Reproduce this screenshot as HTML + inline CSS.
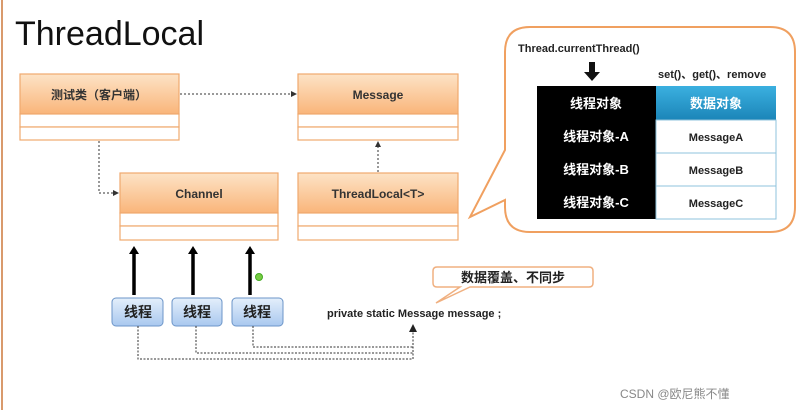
<!DOCTYPE html>
<html><head><meta charset="utf-8"><style>
body{margin:0;width:810px;height:410px;background:#fff;overflow:hidden;font-family:"Liberation Sans","Noto Sans CJK SC",sans-serif;}
</style></head><body>
<svg width="810" height="410" xmlns="http://www.w3.org/2000/svg" font-family="Liberation Sans, Noto Sans CJK SC, sans-serif">
<defs>
<linearGradient id="og" x1="0" y1="0" x2="0" y2="1"><stop offset="0" stop-color="#fde3c6"/><stop offset="1" stop-color="#f9b57a"/></linearGradient>
<linearGradient id="bg" x1="0" y1="0" x2="0" y2="1"><stop offset="0" stop-color="#e4effb"/><stop offset="1" stop-color="#a9c8ef"/></linearGradient>
<linearGradient id="tg" x1="0" y1="0" x2="0" y2="1"><stop offset="0" stop-color="#3bb0e0"/><stop offset="1" stop-color="#1b85b8"/></linearGradient>
<marker id="ah" markerWidth="6" markerHeight="6" refX="5" refY="3" orient="auto"><path d="M0,0L6,3L0,6z" fill="#333"/></marker>
</defs>
<line x1="2" y1="0" x2="2" y2="410" stroke="#d99a6c" stroke-width="2"/>
<text x="15" y="45" font-size="34" fill="#111">ThreadLocal</text>
<g stroke="#f0a96e" stroke-width="1.2">
<rect x="20" y="74" width="159" height="40" fill="url(#og)"/><rect x="20" y="114" width="159" height="13" fill="#fff"/><rect x="20" y="127" width="159" height="13" fill="#fff"/>
<rect x="298" y="74" width="160" height="40" fill="url(#og)"/><rect x="298" y="114" width="160" height="13" fill="#fff"/><rect x="298" y="127" width="160" height="13" fill="#fff"/>
<rect x="120" y="173" width="158" height="40" fill="url(#og)"/><rect x="120" y="213" width="158" height="13" fill="#fff"/><rect x="120" y="226" width="158" height="14" fill="#fff"/>
<rect x="298" y="173" width="160" height="40" fill="url(#og)"/><rect x="298" y="213" width="160" height="13" fill="#fff"/><rect x="298" y="226" width="160" height="14" fill="#fff"/>
</g>
<g font-size="12" font-weight="bold" text-anchor="middle" fill="#333">
<text x="99" y="99">测试类（客户端）</text><text x="378" y="99">Message</text>
<text x="199" y="198">Channel</text><text x="378" y="198">ThreadLocal&lt;T&gt;</text>
</g>
<g stroke="#333" stroke-dasharray="2,2" fill="none" marker-end="url(#ah)">
<line x1="180" y1="94" x2="296" y2="94"/>
<polyline points="99,141 99,193 118,193"/>
<line x1="378" y1="172" x2="378" y2="142"/>
</g>
<path d="M530,27 H770 Q795,27 795,52 V207 Q795,232 770,232 H530 Q505,232 505,207 V200 L470,217 L505,150 V52 Q505,27 530,27z" fill="#fff" stroke="#f0a060" stroke-width="2"/>
<text x="518" y="52" font-size="11" font-weight="bold" fill="#222">Thread.currentThread()</text>
<path d="M589,62h6v10h5l-8,9l-8,-9h5z" fill="#111"/>
<text x="658" y="78" font-size="11" font-weight="bold" fill="#222">set()、get()、remove</text>
<rect x="537" y="86" width="119" height="133" fill="#000"/>
<rect x="656" y="86" width="120" height="34" fill="url(#tg)"/>
<g fill="#fff" stroke="#8fc3dc"><rect x="656" y="120" width="120" height="33"/><rect x="656" y="153" width="120" height="33"/><rect x="656" y="186" width="120" height="33"/></g>
<g font-size="13" text-anchor="middle" fill="#fff" font-weight="bold">
<text x="596" y="108">线程对象</text><text x="596" y="141">线程对象-A</text><text x="596" y="174">线程对象-B</text><text x="596" y="207">线程对象-C</text>
<text x="716" y="108">数据对象</text></g>
<g font-size="11" text-anchor="middle" fill="#222" font-weight="bold">
<text x="716" y="141">MessageA</text><text x="716" y="174">MessageB</text><text x="716" y="207">MessageC</text></g>
<g stroke="#000" stroke-width="3.5"><line x1="134" y1="295" x2="134" y2="252"/><line x1="193" y1="295" x2="193" y2="252"/><line x1="250" y1="295" x2="250" y2="252"/></g>
<g fill="#000"><path d="M129,254l5,-8l5,8z"/><path d="M188,254l5,-8l5,8z"/><path d="M245,254l5,-8l5,8z"/></g>
<g stroke="#6c95c8" fill="url(#bg)"><rect x="112" y="298" width="51" height="28" rx="4"/><rect x="172" y="298" width="50" height="28" rx="4"/><rect x="232" y="298" width="51" height="28" rx="4"/></g>
<g font-size="14" font-weight="bold" text-anchor="middle" fill="#222"><text x="138" y="317">线程</text><text x="197" y="317">线程</text><text x="257" y="317">线程</text></g>
<circle cx="259" cy="277" r="3.5" fill="#7c4" stroke="#4a2"/>
<g stroke="#333" stroke-dasharray="2,1.5" fill="none">
<polyline points="138,326 138,359 413,359 413,330"/><polyline points="196,326 196,353 413,353"/><polyline points="253,326 253,347 413,347"/></g>
<path d="M409,332l4,-8l4,8z" fill="#222"/>
<text x="327" y="317" font-size="11" font-weight="bold" fill="#222">private static Message message ;</text>
<path d="M437,267H589Q593,267 593,271V283Q593,287 589,287H470L436,303L460,287H437Q433,287 433,283V271Q433,267 437,267z" fill="#fff" stroke="#f0b080" stroke-width="1.5"/>
<text x="513" y="282" font-size="13" font-weight="bold" text-anchor="middle" fill="#222">数据覆盖、不同步</text>
<text x="620" y="398" font-size="12" fill="#888">CSDN @欧尼熊不懂</text>
</svg>
</body></html>
